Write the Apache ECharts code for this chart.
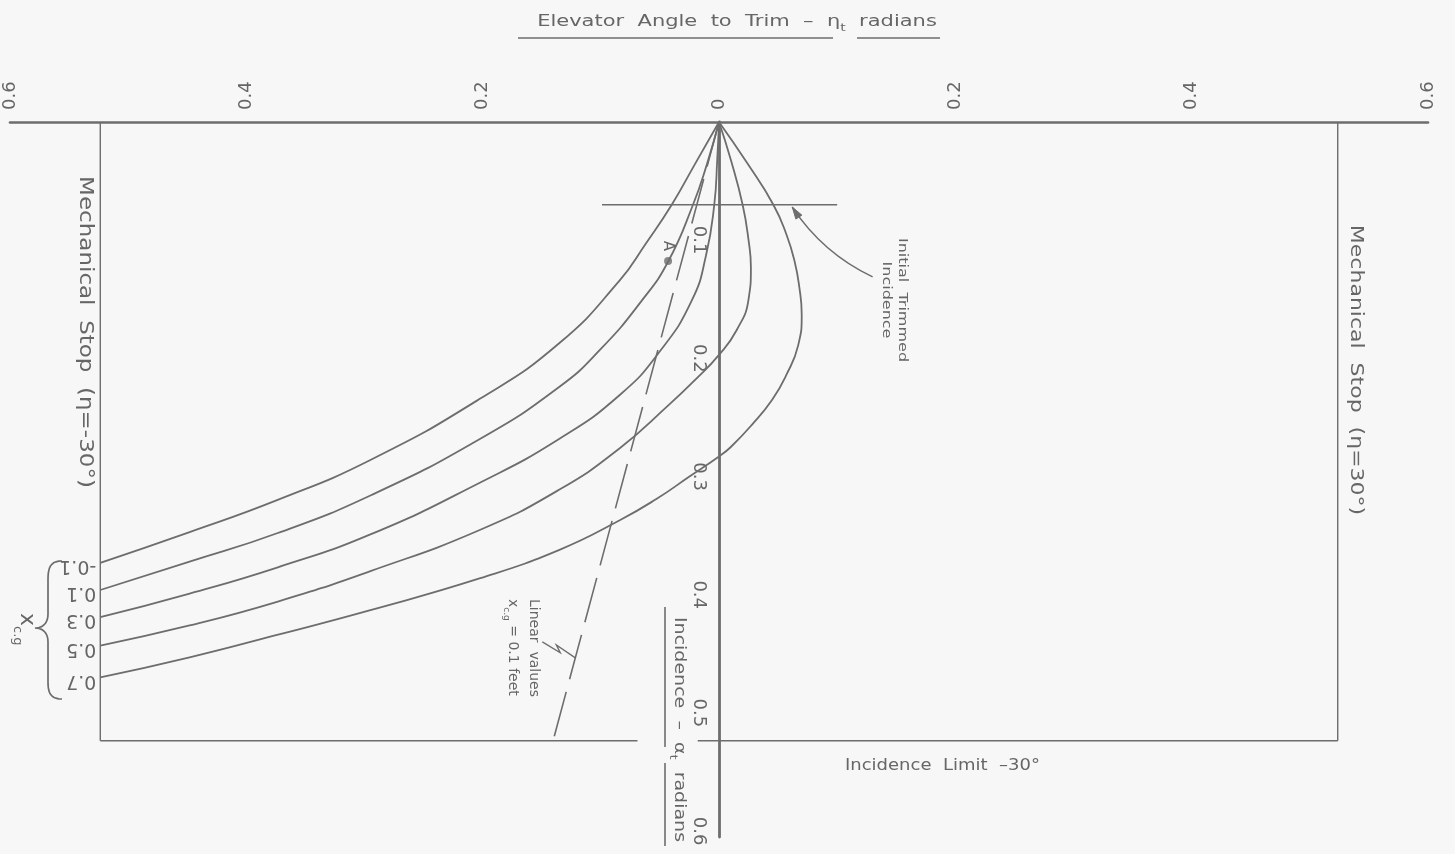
<!DOCTYPE html>
<html>
<head>
<meta charset="utf-8">
<script src="https://cdn.jsdelivr.net/npm/echarts@6/dist/echarts.min.js"></script>
<style>
html,body{margin:0;padding:0;background:#f7f7f7;}
#c{width:1455px;height:854px;}
</style>
</head>
<body>
<div id="c"></div>
<script>
// ---------------- data (radians) ----------------
const ETA_TICKS = [-0.6, -0.4, -0.2, 0, 0.2, 0.4, 0.6];
const ALPHA_TICKS = [0.1, 0.2, 0.3, 0.4, 0.5, 0.6];
const XCG_LABELS = ['-0.1', '0.1', '0.3', '0.5', '0.7'];

// [eta, alpha] pairs
const CURVE_XCG_M01 = [[0,0],[-0.020,0.035],[-0.040,0.070],[-0.062,0.103],[-0.084,0.134],[-0.135,0.187],[-0.202,0.234],[-0.295,0.286],[-0.374,0.320],[-0.448,0.347],[-0.5236,0.373]];
const CURVE_XCG_P01 = [[0,0],[-0.010,0.035],[-0.022,0.070],[-0.043,0.118],[-0.066,0.152],[-0.100,0.192],[-0.135,0.224],[-0.202,0.268],[-0.295,0.316],[-0.374,0.348],[-0.448,0.372],[-0.5236,0.396]];
const CURVE_XCG_P03 = [[0,0],[-0.0015,0.032],[-0.004,0.070],[-0.011,0.113],[-0.023,0.151],[-0.050,0.194],[-0.084,0.231],[-0.135,0.268],[-0.202,0.305],[-0.295,0.349],[-0.374,0.377],[-0.448,0.399],[-0.5236,0.419]];
const CURVE_XCG_P05 = [[0,0],[0.010,0.032],[0.020,0.070],[0.025,0.100],[0.027,0.123],[0.025,0.150],[0.015,0.176],[0,0.197],[-0.020,0.218],[-0.042,0.239],[-0.084,0.276],[-0.135,0.311],[-0.202,0.345],[-0.295,0.380],[-0.374,0.406],[-0.448,0.426],[-0.5236,0.443]];
const CURVE_XCG_P07 = [[0,0],[0.024,0.035],[0.046,0.070],[0.057,0.095],[0.064,0.118],[0.068,0.140],[0.070,0.163],[0.067,0.189],[0.057,0.214],[0.045,0.235],[0.028,0.256],[0.010,0.275],[0,0.283],[-0.025,0.300],[-0.053,0.319],[-0.084,0.337],[-0.135,0.362],[-0.202,0.386],[-0.295,0.413],[-0.374,0.434],[-0.448,0.453],[-0.5236,0.470]];

const LINEAR_XCG_01 = [[0,0],[-0.1404,0.5236]];
const POINT_A = [-0.0431, 0.1176];
const STOP_ETA = 0.5236;          // 30 deg
const INCIDENCE_LIMIT = 0.5236;   // 30 deg
const LIMIT_GAP = [-0.069, -0.018];
const TRIM_ALPHA = 0.070;
const TRIM_EXTENT = [-0.099, 0.100];
const TRIM_ARROW = [[0.130, 0.131], [0.062, 0.072]];

// ---------------- styling ----------------
const LINE = '#6d6d6d';
const TXT = '#666666';
const FONT = 'DejaVu Sans';
const CW = -Math.PI / 2;
const GRID = { left: 10, right: 27, top: 122, bottom: 17 };
const X_MIN = -0.6, X_MAX = 0.6;
const GRID_W = 1455 - GRID.left - GRID.right;
const Y_AXIS_OFFSET = -GRID_W * (0 - X_MIN) / (X_MAX - X_MIN);

const curves = [CURVE_XCG_M01, CURVE_XCG_P01, CURVE_XCG_P03, CURVE_XCG_P05, CURVE_XCG_P07];

function plain(data, extra) {
  return Object.assign({
    type: 'line', data: data, symbol: 'none', showSymbol: false, silent: true,
    lineStyle: { color: LINE, width: 1.4 }, z: 2
  }, extra || {});
}

const series = [];
curves.forEach((d, i) => {
  series.push(plain(d, { name: 'x_cg ' + XCG_LABELS[i], smooth: 0.5, lineStyle: { color: LINE, width: 1.8 }, z: 3 }));
});
series.push(plain(LINEAR_XCG_01, { name: 'Linear values', lineStyle: { color: LINE, width: 1.6, type: [46, 13] } }));
series.push(plain([[-STOP_ETA, 0], [-STOP_ETA, INCIDENCE_LIMIT]]));
series.push(plain([[STOP_ETA, 0], [STOP_ETA, INCIDENCE_LIMIT]]));
series.push(plain([[-STOP_ETA, INCIDENCE_LIMIT], [LIMIT_GAP[0], INCIDENCE_LIMIT]]));
series.push(plain([[LIMIT_GAP[1], INCIDENCE_LIMIT], [STOP_ETA, INCIDENCE_LIMIT]]));
series.push(plain([[TRIM_EXTENT[0], TRIM_ALPHA], [TRIM_EXTENT[1], TRIM_ALPHA]]));
series.push({
  type: 'scatter', data: [POINT_A], symbol: 'circle', symbolSize: 8, silent: true,
  itemStyle: { color: LINE }, z: 4
});

const chart = echarts.init(document.getElementById('c'));
chart.setOption({
  animation: false,
  backgroundColor: '#f7f7f7',
  grid: { left: GRID.left, right: GRID.right, top: GRID.top, bottom: GRID.bottom, containLabel: false, outerBoundsMode: 'none' },
  xAxis: {
    type: 'value', position: 'top', min: X_MIN, max: X_MAX, interval: 0.2,
    axisLine: { show: true, onZero: false, lineStyle: { color: LINE, width: 2.6 } },
    axisTick: { show: false }, splitLine: { show: false },
    axisLabel: {
      rotate: -90, margin: 12, fontSize: 18, fontFamily: FONT, color: TXT,
      formatter: v => {
        const a = Math.abs(v);
        if (a < 1e-9) return '0';
        const m = ETA_TICKS.find(t => Math.abs(Math.abs(t) - a) < 1e-6);
        return m === undefined ? '' : Math.abs(m).toFixed(1);
      }
    }
  },
  yAxis: {
    type: 'value', position: 'left', offset: Y_AXIS_OFFSET, inverse: true, min: 0, max: 0.605, interval: 0.1,
    axisLine: { show: true, onZero: false, lineStyle: { color: LINE, width: 2.8 } },
    axisTick: { show: false }, splitLine: { show: false },
    axisLabel: {
      rotate: -90, margin: 11, fontSize: 18, fontFamily: FONT, color: TXT,
      showMinLabel: false, showMaxLabel: false,
      formatter: v => {
        const m = ALPHA_TICKS.find(t => Math.abs(t - v) < 1e-6);
        return m === undefined ? '' : m.toFixed(1);
      }
    }
  },
  series: series
});

// ---------------- annotations ----------------
function T(text, x, y, o) {
  o = o || {};
  const st = {
    text: text, fontSize: o.fs || 17, fontFamily: FONT, fill: TXT,
    align: o.align || 'center', verticalAlign: o.va || 'middle'
  };
  if (o.lh) st.lineHeight = o.lh;
  if (o.rich) st.rich = o.rich;
  return { type: 'text', x: x, y: y, rotation: o.rot || 0, scaleX: o.sx || 1, scaleY: o.sy || 1, z: 10, silent: true, style: st };
}
function L(x1, y1, x2, y2, w) {
  return { type: 'line', z: 10, silent: true, shape: { x1: x1, y1: y1, x2: x2, y2: y2 }, style: { stroke: LINE, lineWidth: w || 1.5 } };
}
function cubic(p0, p1, p2, p3, n) {
  const out = [];
  for (let i = 0; i <= n; i++) {
    const t = i / n, u = 1 - t;
    out.push([
      u*u*u*p0[0] + 3*u*u*t*p1[0] + 3*u*t*t*p2[0] + t*t*t*p3[0],
      u*u*u*p0[1] + 3*u*u*t*p1[1] + 3*u*t*t*p2[1] + t*t*t*p3[1]
    ]);
  }
  return out;
}

const px = p => chart.convertToPixel({ gridIndex: 0 }, p);
const g = [];

// title
g.push(T('Elevator  Angle  to  Trim  –  η{s|t}  radians', 737, 22, {
  fs: 21, sy: 0.76, lh: 26,
  rich: { s: { fontSize: 14, fontFamily: FONT, fill: TXT, verticalAlign: 'bottom', lineHeight: 30 } }
}));
g.push(L(518, 38, 833, 38, 1.6));
g.push(L(857, 38, 940, 38, 1.6));

// mechanical stop texts
g.push(T('Mechanical  Stop  (η=-30°)', 85, 332, { rot: CW, fs: 23, sy: 0.82 }));
g.push(T('Mechanical  Stop  (η=30°)', 1356, 370, { rot: CW, fs: 22, sy: 0.82 }));

// incidence limit
g.push(T('Incidence  Limit  –30°', 845, 766, { align: 'left', fs: 18, sy: 0.85 }));

// vertical axis name
g.push(T('Incidence  –  α{s|t}  radians', 679, 617, {
  rot: CW, align: 'left', fs: 19, sy: 0.86, lh: 24,
  rich: { s: { fontSize: 13, fontFamily: FONT, fill: TXT, verticalAlign: 'bottom', lineHeight: 28 } }
}));
g.push(L(665, 607, 665, 747, 1.6));
g.push(L(665, 763, 665, 846, 1.6));

// initial trimmed incidence + arrow
g.push(T('Initial  Trimmed\nIncidence', 894, 300, { rot: CW, fs: 16, sy: 0.78, lh: 20 }));
(function () {
  const s = px(TRIM_ARROW[0]), e = px(TRIM_ARROW[1]);
  const c = 0.14;
  const cp = [(s[0] + e[0]) / 2 - (s[1] - e[1]) * c, (s[1] + e[1]) / 2 - (e[0] - s[0]) * c];
  g.push({ type: 'bezierCurve', z: 10, silent: true,
    shape: { x1: s[0], y1: s[1], x2: e[0], y2: e[1], cpx1: cp[0], cpy1: cp[1] },
    style: { stroke: LINE, lineWidth: 1.5, fill: null } });
  let dx = e[0] - cp[0], dy = e[1] - cp[1];
  const n = Math.hypot(dx, dy); dx /= n; dy /= n;
  const len = 12, hw = 3.6;
  const b = [e[0] - dx * len, e[1] - dy * len];
  g.push({ type: 'polygon', z: 10, silent: true,
    shape: { points: [[e[0], e[1]], [b[0] - dy * hw, b[1] + dx * hw], [b[0] + dy * hw, b[1] - dx * hw]] },
    style: { fill: LINE, stroke: LINE, lineWidth: 1 } });
})();

// linear values note
g.push(T('Linear  values\nx{s|c.g} = 0.1 feet', 523, 599, {
  rot: CW, align: 'left', fs: 14, lh: 20,
  rich: { s: { fontSize: 9, fontFamily: FONT, fill: TXT, verticalAlign: 'bottom', lineHeight: 22 } }
}));
const lp = px([LINEAR_XCG_01[1][0] * 0.866, LINEAR_XCG_01[1][1] * 0.866]);
g.push({ type: 'polyline', z: 10, silent: true,
  shape: { points: [[lp[0] - 33, lp[1] - 16], [lp[0] - 15, lp[1] - 5], [lp[0] - 19, lp[1] - 13], [lp[0], lp[1]]] },
  style: { stroke: LINE, lineWidth: 1.3, fill: null } });

// point A label
const pa = px(POINT_A);
g.push(T('A', pa[0], pa[1] - 15, { rot: CW, fs: 15 }));

// x_cg labels at curve ends (rotated 180)
curves.forEach((d, i) => {
  const e = px(d[d.length - 1]);
  g.push(T(XCG_LABELS[i], e[0] - 4, e[1] + 3, { rot: Math.PI, align: 'left', fs: 19 }));
});

// x_cg symbol and brace
g.push(T('x{s|c.g}', 27, 613, {
  rot: CW, align: 'left', fs: 22, lh: 26,
  rich: { s: { fontSize: 13, fontFamily: FONT, fill: TXT, verticalAlign: 'bottom', lineHeight: 32 } }
}));
const brace = [].concat(
  cubic([62,561],[50,561],[48,568],[48,580], 10),
  [[48,614]],
  cubic([48,614],[48,624],[42,628],[35,628], 10),
  cubic([35,628],[42,628],[48,632],[48,642], 10),
  [[48,682]],
  cubic([48,682],[48,692],[50,699],[62,699], 10)
);
g.push({ type: 'polyline', z: 10, silent: true, shape: { points: brace }, style: { stroke: LINE, lineWidth: 1.7, fill: null } });

chart.setOption({ graphic: { elements: g } });
</script>
</body>
</html>
